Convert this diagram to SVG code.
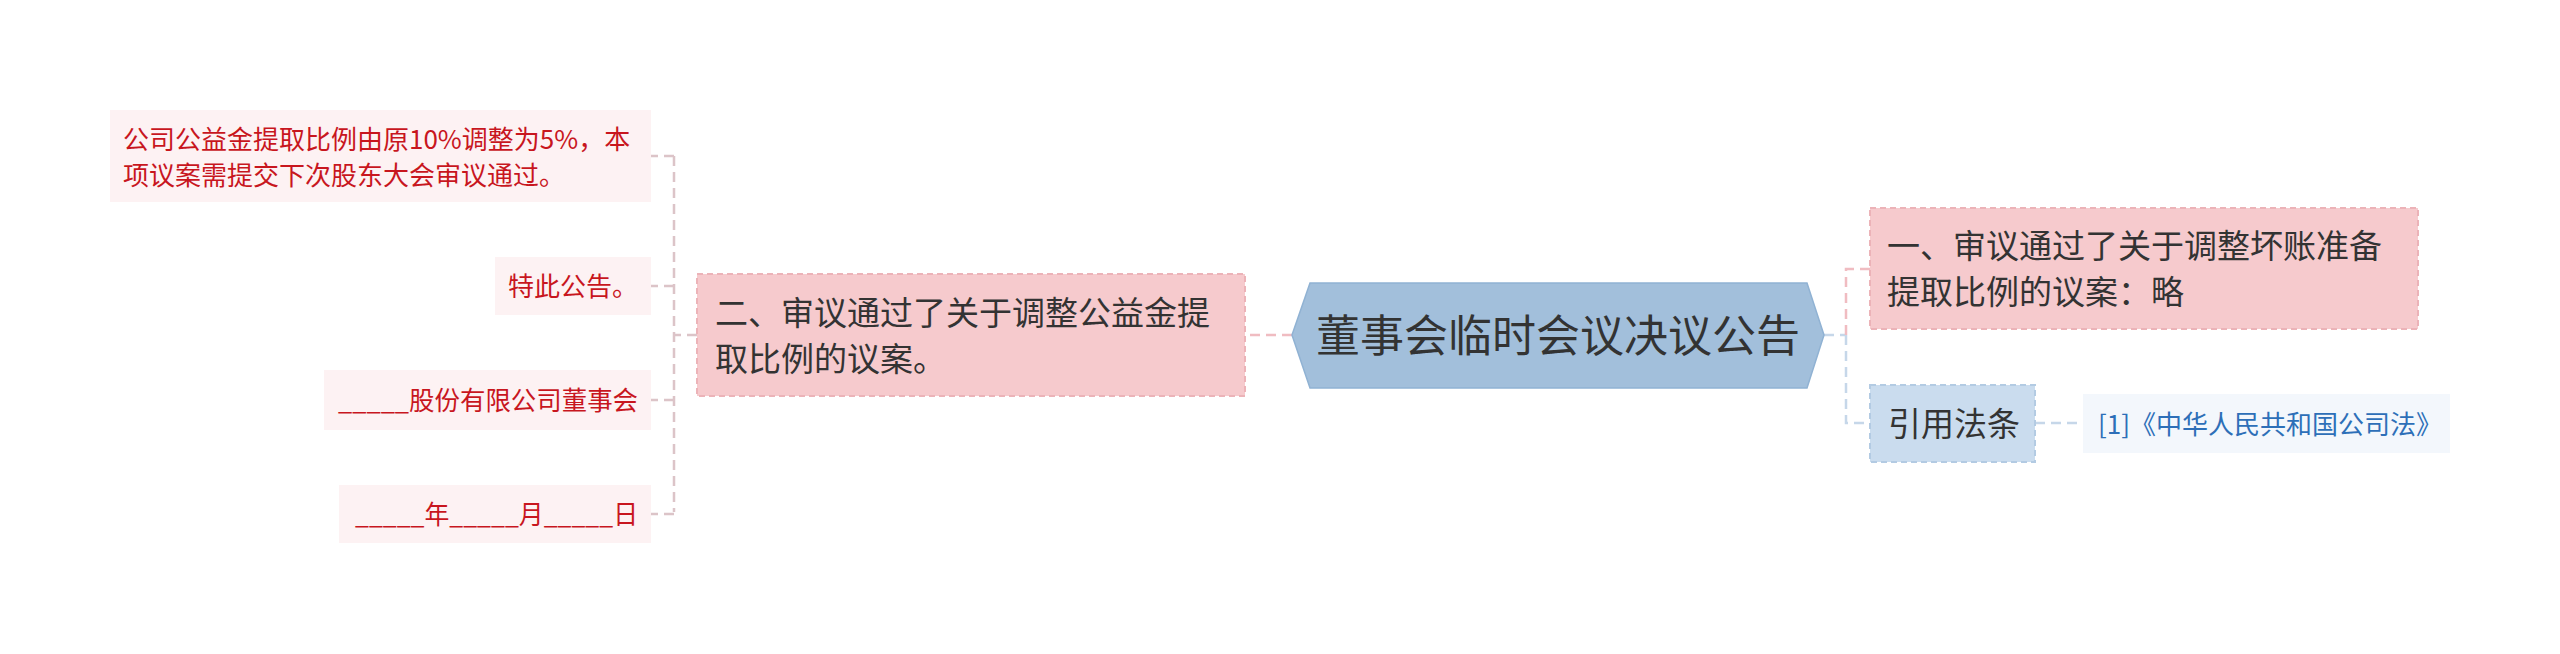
<svg xmlns="http://www.w3.org/2000/svg" width="2560" height="654" viewBox="0 0 2560 654">
<style>
text{font-family:"Noto Sans CJK SC","Noto Sans",sans-serif}
.leaf{fill:#fdf2f3}
.leaft{font-size:26px;fill:#c8161e}
.pink{fill:#f6cacd;stroke:#ecb3b8;stroke-width:2;stroke-dasharray:6 4}
.blue{fill:#cadcee;stroke:#b3cbe3;stroke-width:2;stroke-dasharray:6 4}
.main{font-size:33px;fill:#333333}
.ref{fill:#f3f7fc}
.reft{font-size:26px;fill:#2d6fb8}
.c{fill:none;stroke-width:2.5;stroke-dasharray:10 6}
.cp{stroke:#f0bcc1}
.cg{stroke:#dcc4c8}
.cb{stroke:#c6d7e9}
</style>
<rect width="2560" height="654" fill="#ffffff"/>
<g id="connectors">
<path class="c cp" d="M1292,335 H1245"/>
<path class="c cg" d="M697,335 H674"/>
<path class="c cg" d="M674,156 V512"/>
<path class="c cg" d="M674,156 H651"/>
<path class="c cg" d="M674,286 H651"/>
<path class="c cg" d="M674,400 H651"/>
<path class="c cg" d="M674,514 H651"/>
<path class="c cb" d="M1824,335 H1846"/>
<path class="c cp" d="M1846,335 V269 H1870"/>
<path class="c cb" d="M1846,335 V423 H1870"/>
<path class="c cb" d="M2035,423 H2083"/>
</g>
<g id="root">
<polygon points="1292,335 1310,283 1807,283 1824,335 1807,388 1310,388" fill="#a2bfdb" stroke="#90b2d3" stroke-width="1.5"/>
<text x="1558" y="351.5" text-anchor="middle" font-size="44" fill="#333333">董事会临时会议决议公告</text>
</g>
<g id="node-er">
<rect class="pink" x="697" y="274" width="548" height="122"/>
<text class="main" x="715" y="324.5">二、审议通过了关于调整公益金提</text>
<text class="main" x="715" y="370.5">取比例的议案。</text>
</g>
<g id="leaf1">
<rect class="leaf" x="110" y="110" width="541" height="92"/>
<text class="leaft" x="123" y="149">公司公益金提取比例由原10%调整为5%，本</text>
<text class="leaft" x="123" y="185">项议案需提交下次股东大会审议通过。</text>
</g>
<g id="leaf2">
<rect class="leaf" x="495" y="257" width="156" height="58"/>
<text class="leaft" x="638" y="296" text-anchor="end">特此公告。</text>
</g>
<g id="leaf3">
<rect class="leaf" x="324" y="370" width="327" height="60"/>
<text class="leaft" x="338" y="410" textLength="300" lengthAdjust="spacingAndGlyphs">_____股份有限公司董事会</text>
</g>
<g id="leaf4">
<rect class="leaf" x="339" y="485" width="312" height="58"/>
<text class="leaft" x="355" y="524" textLength="283" lengthAdjust="spacingAndGlyphs">_____年_____月_____日</text>
</g>
<g id="node-yi">
<rect class="pink" x="1870" y="208" width="548" height="121"/>
<text class="main" x="1887" y="258">一、审议通过了关于调整坏账准备</text>
<text class="main" x="1887" y="304">提取比例的议案：略</text>
</g>
<g id="node-cite">
<rect class="blue" x="1870" y="385" width="165" height="77"/>
<text class="main" x="1888" y="436">引用法条</text>
</g>
<g id="leaf-ref">
<rect class="ref" x="2083" y="394" width="367" height="59"/>
<text class="reft" x="2098" y="433.5">[1]《中华人民共和国公司法》</text>
</g>
</svg>
